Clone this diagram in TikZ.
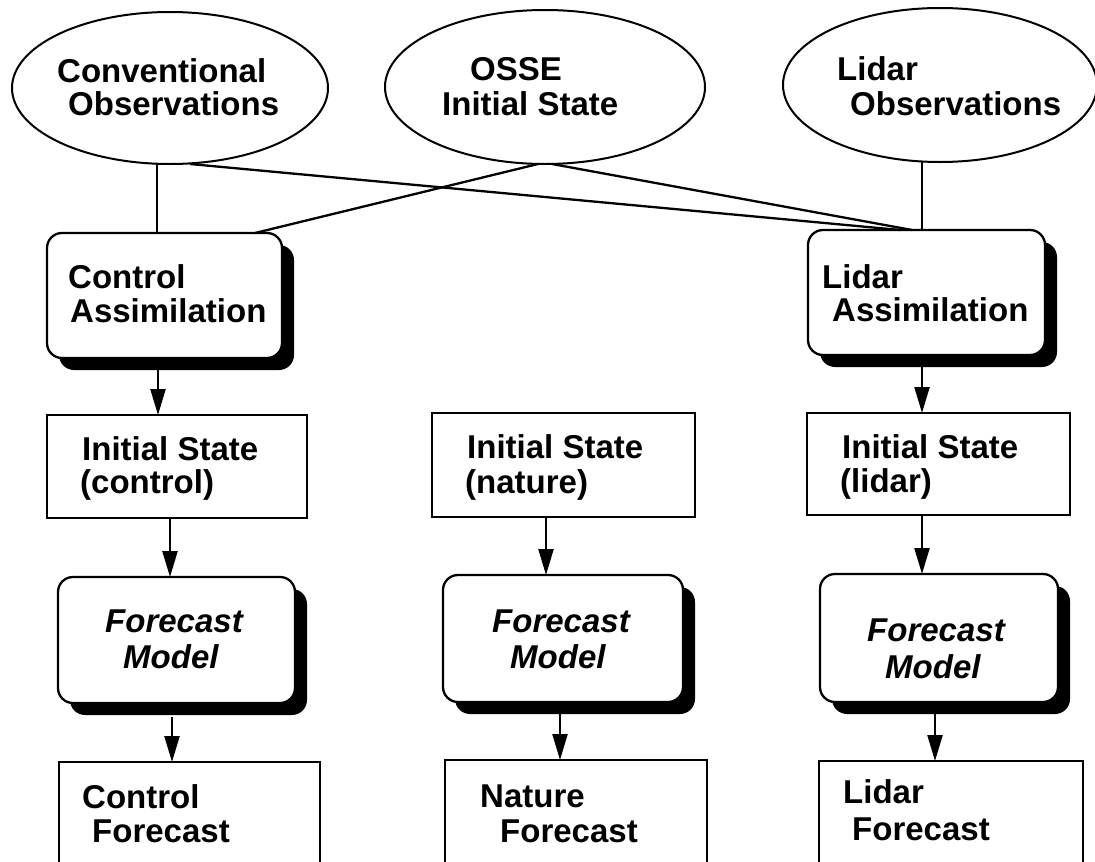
\documentclass[tikz,border=0pt]{standalone}
\usepackage{fontspec}
\setmainfont{Liberation Sans}
\usetikzlibrary{shapes.geometric,shadows,arrows.meta}
\begin{document}
\begin{tikzpicture}[x=1pt,y=-1pt,
  lw/.style={line width=2.3pt},
  oval/.style={ellipse,draw,line width=2pt,inner sep=0pt,outer sep=0pt},
  sqbox/.style={draw,lw,rectangle,inner sep=0pt,outer sep=0pt,anchor=north west,fill=white},
  rbox/.style={draw,lw,rectangle,rounded corners=15pt,inner sep=0pt,outer sep=0pt,anchor=north west,fill=white,
    drop shadow={shadow xshift=12pt,shadow yshift=-12pt,fill=black,opacity=1}},
  lbl/.style={anchor=base west,inner sep=0pt,font=\fontsize{33}{32}\selectfont\bfseries},
  ilbl/.style={lbl,font=\fontsize{33}{32}\selectfont\bfseries\itshape},
  con/.style={lw},
  arr/.style={lw,-{Triangle[length=26pt,width=15pt]}}]
\useasboundingbox (0,0) rectangle (1095,862);
\clip (0,0) rectangle (1095,862);

% ellipses
\node[oval,minimum width=316pt,minimum height=152pt] (e1) at (170,88) {};
\node[oval,minimum width=320pt,minimum height=154pt] (e2) at (545,87) {};
\node[oval,minimum width=314pt,minimum height=154pt] (e3) at (940,85) {};

% shadowed rounded boxes
\node[rbox,minimum width=235pt,minimum height=125pt] (ca) at (47,233) {};
\node[rbox,minimum width=237pt,minimum height=125pt] (la) at (808,230) {};
\node[rbox,minimum width=237pt,minimum height=126pt] (fm1) at (58,577) {};
\node[rbox,minimum width=240pt,minimum height=127pt] (fm2) at (443,575) {};
\node[rbox,minimum width=238pt,minimum height=128pt] (fm3) at (820,574) {};

% square boxes
\node[sqbox,minimum width=260pt,minimum height=103pt] (is1) at (47,415) {};
\node[sqbox,minimum width=263pt,minimum height=104pt] (is2) at (432,413) {};
\node[sqbox,minimum width=263pt,minimum height=102pt] (is3) at (807,413) {};
\node[sqbox,minimum width=261pt,minimum height=110pt] (cf) at (59,762) {};
\node[sqbox,minimum width=262pt,minimum height=112pt] (nf) at (445,760) {};
\node[sqbox,minimum width=264pt,minimum height=111pt] (lf) at (819,761) {};

% connectors from ovals
\draw[con] ([xshift=-13pt]e1.south) -- ([xshift=110pt]ca.north west);
\draw[con] ([xshift=20pt]e1.south) -- ([xshift=92pt]la.north west);
\draw[con] ([xshift=-7pt]e2.south) -- ([xshift=208pt]ca.north west);
\draw[con] ([xshift=7pt]e2.south) -- ([xshift=104pt]la.north west);
\draw[con] ([xshift=-18pt]e3.south) -- ([xshift=114pt]la.north west);

% arrows
\draw[arr] ([xshift=111pt,yshift=-137pt]ca.north west) -- ([xshift=111pt]is1.north west);
\draw[arr] ([xshift=123pt]is1.south west) -- ([xshift=112pt]fm1.north west);
\draw[arr] ([xshift=114pt,yshift=-140pt]fm1.north west) -- ([xshift=113pt]cf.north west);
\draw[arr] ([xshift=114pt]is2.south west) -- ([xshift=103pt]fm2.north west);
\draw[arr] ([xshift=117pt,yshift=-139pt]fm2.north west) -- ([xshift=115pt]nf.north west);
\draw[arr] ([xshift=114pt,yshift=-137pt]la.north west) -- ([xshift=115pt]is3.north west);
\draw[arr] ([xshift=115pt]is3.south west) -- ([xshift=102pt]fm3.north west);
\draw[arr] ([xshift=115pt,yshift=-139pt]fm3.north west) -- ([xshift=116pt]lf.north west);

% texts
\node[lbl] (t1a) at (57,82) {Conventional};
\node[lbl] (t1b) at (68,115) {Observations};
\node[lbl] (t2a) at (470,80) {OSSE};
\node[lbl] (t2b) at (442,115) {Initial State};
\node[lbl] (t3a) at (837,80) {Lidar};
\node[lbl] (t3b) at (850,115) {Observations};

\node[lbl] (t4a) at (68,288) {Control};
\node[lbl] (t4b) at (70,322) {Assimilation};
\node[lbl] (t5a) at (822,288) {Lidar};
\node[lbl] (t5b) at (832,321) {Assimilation};

\node[lbl] (t6a) at (82,460) {Initial State};
\node[lbl] (t6b) at (80,493) {(control)};
\node[lbl] (t7a) at (467,458) {Initial State};
\node[lbl] (t7b) at (465,493) {(nature)};
\node[lbl] (t8a) at (842,458) {Initial State};
\node[lbl] (t8b) at (840,492) {(lidar)};

\node[ilbl] (t9a) at (105,632) {Forecast};
\node[ilbl] (t9b) at (123,668) {Model};
\node[ilbl] (t10a) at (492,632) {Forecast};
\node[ilbl] (t10b) at (510,668) {Model};
\node[ilbl] (t11a) at (867,641) {Forecast};
\node[ilbl] (t11b) at (885,678) {Model};

\node[lbl] (t12a) at (82,808) {Control};
\node[lbl] (t12b) at (92,842) {Forecast};
\node[lbl] (t13a) at (480,807) {Nature};
\node[lbl] (t13b) at (500,842) {Forecast};
\node[lbl] (t14a) at (843,803) {Lidar};
\node[lbl] (t14b) at (852,840) {Forecast};
\end{tikzpicture}
\end{document}
